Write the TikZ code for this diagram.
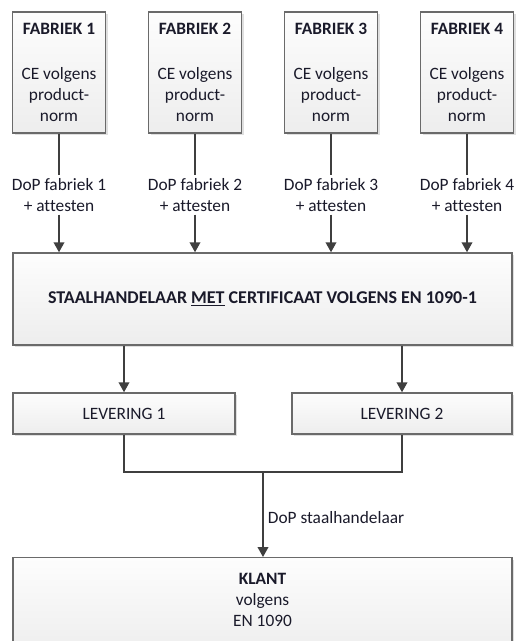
\documentclass[tikz,border=0pt]{standalone}
\usepackage{fontspec}
\setmainfont[Ligatures=NoCommon]{Carlito}
\usetikzlibrary{arrows.meta, shadows}

\definecolor{boxline}{HTML}{6A6A6A}
\definecolor{conline}{HTML}{3F3F3F}
\definecolor{boxtop}{HTML}{FDFDFD}
\definecolor{boxbot}{HTML}{EDEDED}
\definecolor{txt}{HTML}{1A1A2A}

\tikzset{
  box/.style={draw=boxline, line width=1.1pt, top color=boxtop, bottom color=boxbot,
    drop shadow={opacity=0.25, shadow xshift=1.6pt, shadow yshift=-1.6pt},
    align=center, inner sep=0pt, text=txt},
  fabbox/.style={box, minimum width=69.75pt, minimum height=90.75pt},
  levbox/.style={box, minimum width=166.5pt, minimum height=30.75pt},
  lbl/.style={align=center, text=txt, inner sep=2pt},
  con/.style={draw=conline, line width=1.3pt},
  arr/.style={con, -{Triangle[width=8pt, length=7.5pt]}}
}

\begin{document}
\begin{tikzpicture}[x=0.75pt, y=-0.75pt, font=\fontsize{13}{15.75}\selectfont]

  % kader
  \clip (0, 0) rectangle (519, 641);
  \fill[white] (0, 0) rectangle (519, 641);

  % fabrieken
  \node[fabbox] (f1) at (59, 72.5) {\textbf{FABRIEK 1}\\[18pt]CE volgens\\product-\\norm};
  \node[fabbox] (f2) at (195, 72.5) {\textbf{FABRIEK 2}\\[18pt]CE volgens\\product-\\norm};
  \node[fabbox] (f3) at (331, 72.5) {\textbf{FABRIEK 3}\\[18pt]CE volgens\\product-\\norm};
  \node[fabbox] (f4) at (467, 72.5) {\textbf{FABRIEK 4}\\[18pt]CE volgens\\product-\\norm};

  % DoP per fabriek
  \node[lbl] (d1) at (59, 195) {DoP fabriek 1\\+ attesten};
  \node[lbl] (d2) at (195, 195) {DoP fabriek 2\\+ attesten};
  \node[lbl] (d3) at (331, 195) {DoP fabriek 3\\+ attesten};
  \node[lbl] (d4) at (467, 195) {DoP fabriek 4\\+ attesten};

  % staalhandelaar
  \node[box, minimum width=374.25pt, minimum height=69pt, font=\fontsize{13.5}{16}\selectfont] (sh) at (262.5, 299)
    {\textbf{STAALHANDELAAR \underline{MET} CERTIFICAAT VOLGENS EN 1090-1}};

  % leveringen
  \node[levbox] (lev1) at (124, 413.5) {LEVERING 1};
  \node[levbox, minimum width=165pt] (lev2) at (402, 413.5) {LEVERING 2};

  % klant
  \node[box, minimum width=374.25pt, minimum height=75pt, anchor=north] (klant) at (262.5, 557) {};
  \node[lbl, anchor=north] (kt) at (262.5, 570) {\textbf{KLANT}\\volgens\\EN 1090};

  % verbindingen
  \draw[con] (f1) -- (d1);
  \draw[con] (f2) -- (d2);
  \draw[con] (f3) -- (d3);
  \draw[con] (f4) -- (d4);
  \draw[arr] (d1) -- (d1 |- sh.north);
  \draw[arr] (d2) -- (d2 |- sh.north);
  \draw[arr] (d3) -- (d3 |- sh.north);
  \draw[arr] (d4) -- (d4 |- sh.north);
  \draw[arr] (lev1 |- sh.south) -- (lev1);
  \draw[arr] (lev2 |- sh.south) -- (lev2);

  \coordinate (join) at (263, 472);
  \draw[con] (lev1) -- (lev1 |- join) -- (lev2 |- join) -- (lev2);
  \draw[arr] (join) -- (join |- klant.north)
    node[midway, right, lbl, xshift=1pt, yshift=-2pt] (dsh) {DoP staalhandelaar};

\end{tikzpicture}
\end{document}
